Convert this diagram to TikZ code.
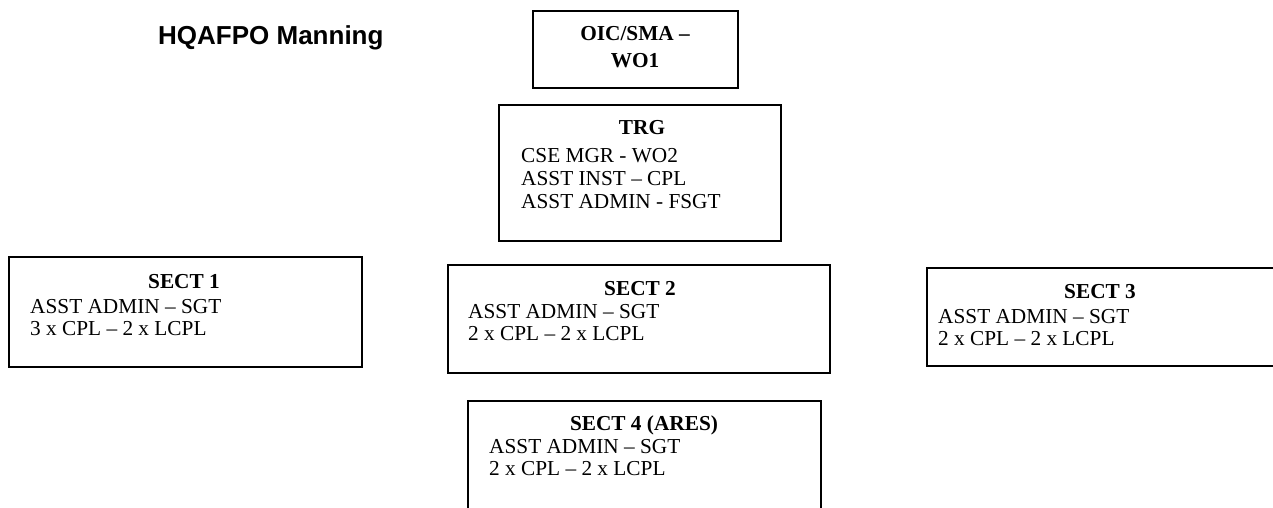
\documentclass[tikz,border=0pt]{standalone}
\usepackage{fontspec}
\setmainfont{Liberation Serif}
\newfontfamily\titlefont{Liberation Sans}
\begin{document}
\begin{tikzpicture}[x=1pt,y=-1pt,
  orgbox/.style={draw, line width=1.7pt, rectangle, inner sep=0pt},
  txt/.style={inner sep=0pt, font=\fontsize{21.3}{23.5}\selectfont},
  headtxt/.style={inner sep=0pt, font=\bfseries\fontsize{21.3}{23.5}\selectfont, anchor=base},
  linetxt/.style={txt, anchor=base west}]
\useasboundingbox (0,0) rectangle (1273,508);
\clip (0,0) rectangle (1273,508);
% title
\node[inner sep=0pt, anchor=base west, font=\titlefont\bfseries\fontsize{26}{29}\selectfont] (title) at (158,45) {HQAFPO Manning};
% boxes
\node[orgbox, minimum width=205pt, minimum height=77pt] (oic) at (635.5,49.5) {};
\node[orgbox, minimum width=282pt, minimum height=136pt] (trg) at (640,173) {};
\node[orgbox, minimum width=353pt, minimum height=110pt] (s1) at (185.5,312) {};
\node[orgbox, minimum width=382pt, minimum height=108pt] (s2) at (639,319) {};
\node[orgbox, minimum width=363pt, minimum height=98pt] (s3) at (1108.5,317) {};
\node[orgbox, minimum width=353pt, minimum height=129pt] (s4) at (644.5,465.5) {};
% OIC
\node[headtxt] (oic1) at (635,41) {OIC/SMA --};
\node[headtxt] (oic2) at (635,68) {WO1};
% TRG
\node[headtxt] (trgh) at (642,135) {TRG};
\node[linetxt] (trg1) at (521,162) {CSE MGR - WO2};
\node[linetxt] (trg2) at (521,185) {ASST INST -- CPL};
\node[linetxt] (trg3) at (521,208) {ASST ADMIN - FSGT};
% SECT 1
\node[headtxt] (s1h) at (184,288) {SECT 1};
\node[linetxt] (s1a) at (30,313) {ASST ADMIN -- SGT};
\node[linetxt] (s1b) at (30,335) {3 x CPL -- 2 x LCPL};
% SECT 2
\node[headtxt] (s2h) at (640,295) {SECT 2};
\node[linetxt] (s2a) at (468,318) {ASST ADMIN -- SGT};
\node[linetxt] (s2b) at (468,340) {2 x CPL -- 2 x LCPL};
% SECT 3
\node[headtxt] (s3h) at (1100,298) {SECT 3};
\node[linetxt] (s3a) at (938,323) {ASST ADMIN -- SGT};
\node[linetxt] (s3b) at (938,345) {2 x CPL -- 2 x LCPL};
% SECT 4
\node[headtxt] (s4h) at (644,430) {SECT 4 (ARES)};
\node[linetxt] (s4a) at (489,453) {ASST ADMIN -- SGT};
\node[linetxt] (s4b) at (489,475) {2 x CPL -- 2 x LCPL};
\end{tikzpicture}
\end{document}
